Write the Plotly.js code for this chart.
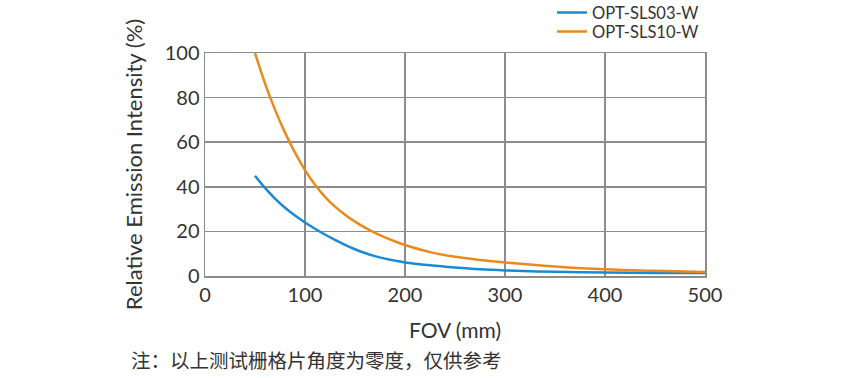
<!DOCTYPE html>
<html>
<head>
<meta charset="utf-8">
<script src="https://cdn.plot.ly/plotly-3.0.1.min.js"></script>
<style>html,body{margin:0;padding:0;background:#fff;}#chart{width:850px;height:378px;}</style>
</head>
<body>
<div id="chart"></div>
<script>
const fovSLS03 = [50, 60, 70, 80, 90, 100, 110, 120, 130, 140, 150, 160, 170, 180, 190, 200, 225, 250, 275, 300, 350, 400, 450, 500];
const intensitySLS03 = [45, 39.5, 34.7, 30.6, 27.1, 24.0, 21.2, 18.6, 16.2, 14.0, 12.0, 10.3, 8.9, 7.8, 6.9, 6.1, 4.8, 3.8, 3.0, 2.5, 1.9, 1.6, 1.4, 1.3];
const fovSLS10 = [50, 60, 70, 80, 90, 100, 110, 120, 130, 140, 150, 160, 170, 180, 190, 200, 225, 250, 275, 300, 350, 400, 450, 500];
const intensitySLS10 = [100, 86.4, 74.6, 64.3, 55.3, 47.5, 40.9, 35.5, 31.1, 27.5, 24.4, 21.7, 19.35, 17.3, 15.5, 13.9, 10.7, 8.6, 7.2, 6.1, 4.3, 3.0, 2.3, 1.8];
const seriesNames = ["OPT-SLS03-W", "OPT-SLS10-W"];
const xTicks = [0, 100, 200, 300, 400, 500];
const yTicks = [0, 20, 40, 60, 80, 100];
const xTitle = "FOV (mm)";
const yTitle = "Relative Emission Intensity (%)";
const note = "注：以上测试栅格片角度为零度，仅供参考";

const font = "Lato, 'DejaVu Sans', sans-serif";
const traces = [
  {x: fovSLS03, y: intensitySLS03, name: seriesNames[0], legend: "legend", mode: "lines", line: {color: "#1a8bd0", width: 2.5, shape: "spline", smoothing: 1}},
  {x: fovSLS10, y: intensitySLS10, name: seriesNames[1], legend: "legend2", mode: "lines", line: {color: "#ea8a1e", width: 2.5, shape: "spline", smoothing: 1}}
];
const legendBase = {xanchor: "left", yanchor: "middle", font: {size: 16.5, color: "#333"}, bgcolor: "rgba(0,0,0,0)", borderwidth: 0, itemwidth: 30};
const layout = {
  width: 850, height: 378,
  margin: {l: 205, r: 145, t: 53, b: 102, autoexpand: false},
  paper_bgcolor: "#fff", plot_bgcolor: "#fff",
  font: {family: font, color: "#333", size: 19},
  showlegend: true,
  legend: Object.assign({}, legendBase, {x: 0.694, y: 1.18}),
  legend2: Object.assign({}, legendBase, {x: 0.694, y: 1.095}),
  xaxis: {range: [0, 500], tickvals: xTicks, ticktext: xTicks.map(String), showgrid: true, gridcolor: "#8c8c8c", gridwidth: 1.5,
          showline: true, linecolor: "#8c8c8c", linewidth: 1.5, mirror: true, zeroline: false, ticks: "", ticklen: 0,
          tickfont: {size: 20, color: "#333"}, title: {text: xTitle, font: {size: 21, color: "#333"}, standoff: 19}},
  yaxis: {range: [0, 100], tickvals: yTicks, ticktext: yTicks.map(String), showgrid: true, gridcolor: "#8c8c8c", gridwidth: 1.5,
          showline: true, linecolor: "#8c8c8c", linewidth: 1.5, mirror: true, zeroline: false, ticks: "", ticklen: 0,
          tickfont: {size: 20, color: "#333"}, title: {text: yTitle, font: {size: 22, color: "#333"}, standoff: 16}},
  annotations: [
    {text: note, xref: "paper", yref: "paper", x: -0.152, y: -0.302, xanchor: "left", yanchor: "top", showarrow: false,
     font: {family: "'Noto Sans CJK SC', sans-serif", size: 19.5, color: "#333"}}
  ]
};
Plotly.newPlot("chart", traces, layout, {displayModeBar: false, staticPlot: true});
</script>
</body>
</html>
